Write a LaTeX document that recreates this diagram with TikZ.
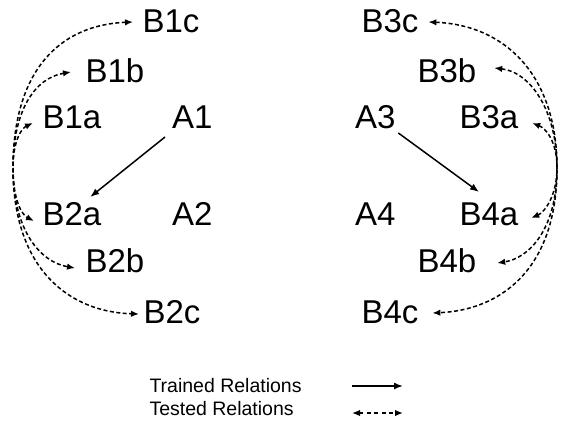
\documentclass[tikz,border=0pt]{standalone}
\usepackage{fontspec}
\setmainfont{Liberation Sans}
\usetikzlibrary{arrows.meta,calc}
\begin{document}
\begin{tikzpicture}[x=1pt,y=-1pt,
  lbl/.style={inner sep=0pt, outer sep=0pt, anchor=base west, font=\fontsize{33}{40}\selectfont},
  leg/.style={inner sep=0pt, outer sep=0pt, anchor=base west, font=\fontsize{19.5}{24}\selectfont},
  trained/.style={line width=1.5pt, -{Latex[length=9pt,width=7pt]}},
  tested/.style={line width=1.5pt, dash pattern=on 4pt off 2.5pt,
     {Latex[length=8pt,width=6.5pt]}-{Latex[length=8pt,width=6.5pt]}},
  legtested/.style={tested, dash pattern=on 4pt off 3.5pt},
]
\useasboundingbox (0,0) rectangle (564,426);

% left group
\node[lbl] (B1c) at (142.5,32) {B1c};
\node[lbl] (B1b) at (85.5,82) {B1b};
\node[lbl] (B1a) at (42.5,128) {B1a};
\node[lbl] (A1) at (172,128) {A1};
\node[lbl] (B2a) at (42.5,225) {B2a};
\node[lbl] (A2) at (172,225) {A2};
\node[lbl] (B2b) at (85.5,272) {B2b};
\node[lbl] (B2c) at (143.5,323) {B2c};

% right group
\node[lbl] (B3c) at (361.5,32) {B3c};
\node[lbl] (B3b) at (417.5,82) {B3b};
\node[lbl] (A3) at (355,128) {A3};
\node[lbl] (B3a) at (459.5,128) {B3a};
\node[lbl] (A4) at (355,225) {A4};
\node[lbl] (B4a) at (459.5,225) {B4a};
\node[lbl] (B4b) at (417.5,272) {B4b};
\node[lbl] (B4c) at (361.5,323) {B4c};

% legend
\node[leg] (LT) at (149.5,392) {Trained Relations};
\node[leg] (LS) at (149.5,415) {Tested Relations};
\coordinate (ts) at (352,386);
\coordinate (te) at (403,386);
\coordinate (ds) at (352,413);
\coordinate (de) at (403,413);

% trained relations
\draw[trained] ($(A1.base west)+(-7,9)$) -- ($(B2a.base east)+(-11,-28)$);
\draw[trained] ($(A3.base east)+(3,5)$) -- ($(B4a.base west)+(19.5,-33)$);

% tips and merge points
\coordinate (L) at (13,168);
\coordinate (R) at (557,168);
\coordinate (t1c) at ($(B1c.base west)+(-9.5,-10)$);
\coordinate (t1b) at ($(B1b.base west)+(-14.5,-10)$);
\coordinate (t1a) at ($(B1a.base west)+(-9.5,-5)$);
\coordinate (t2a) at ($(B2a.base west)+(-8.5,-4)$);
\coordinate (t2b) at ($(B2b.base west)+(-10.5,-4)$);
\coordinate (t2c) at ($(B2c.base west)+(-4.5,-9)$);
\coordinate (t3c) at ($(B3c.base east)+(10,-10)$);
\coordinate (t3b) at ($(B3b.base east)+(18,-14)$);
\coordinate (t3a) at ($(B3a.base east)+(14,-5)$);
\coordinate (t4a) at ($(B4a.base east)+(13,-7)$);
\coordinate (t4b) at ($(B4b.base east)+(21,-9)$);
\coordinate (t4c) at ($(B4c.base east)+(14,-10)$);

% tested relations, left
\draw[tested] (t1c) .. controls (60,25) and (13,70) .. (L) .. controls (13,270) and (70,312) .. (t2c);
\draw[tested] (t1b) .. controls (35,78) and (13,110) .. (L) .. controls (13,230) and (40,262) .. (t2b);
\draw[tested] (t1a) .. controls (22,128) and (13,140) .. (L) .. controls (13,200) and (22,215) .. (t2a);

% tested relations, right
\draw[tested] (t3c) .. controls (505,25) and (557,75) .. (R) .. controls (557,270) and (500,310) .. (t4c);
\draw[tested] (t3b) .. controls (530,72) and (557,110) .. (R) .. controls (557,228) and (530,258) .. (t4b);
\draw[tested] (t3a) .. controls (545,128) and (557,140) .. (R) .. controls (557,195) and (545,212) .. (t4a);

% legend arrows
\draw[trained] (ts) -- (te);
\draw[legtested] (ds) -- (de);
\end{tikzpicture}
\end{document}
